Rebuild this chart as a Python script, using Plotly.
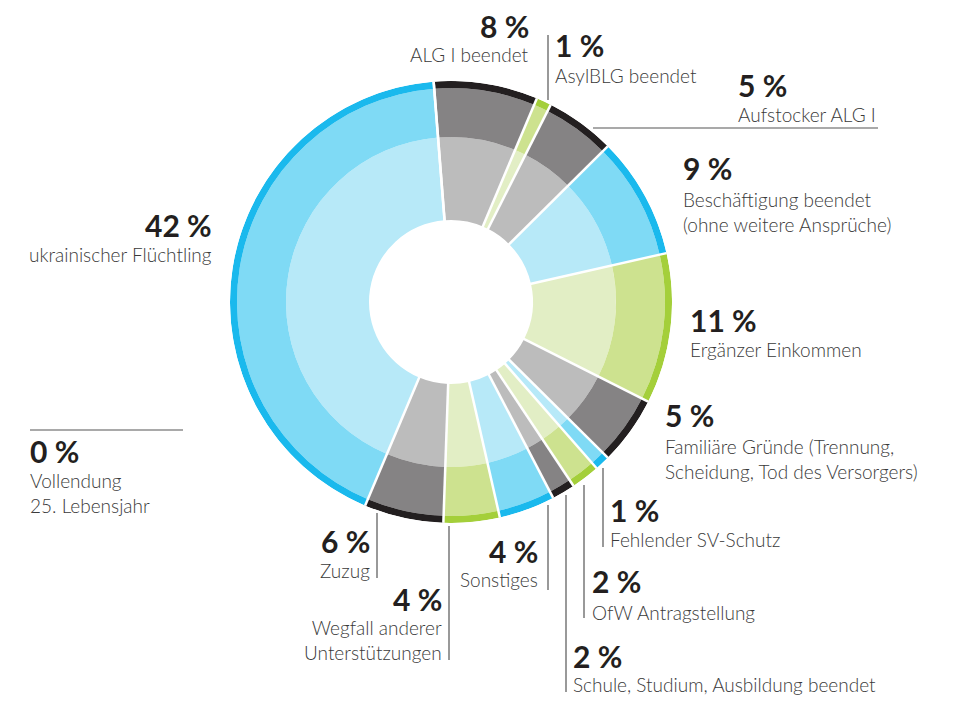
import plotly.graph_objects as go
import numpy as np

# ---------------- data ----------------
categories = [
    "ALG I beendet", "AsylBLG beendet", "Aufstocker ALG I",
    "Beschäftigung beendet (ohne weitere Ansprüche)", "Ergänzer Einkommen",
    "Familiäre Gründe (Trennung, Scheidung, Tod des Versorgers)",
    "Fehlender SV-Schutz", "OfW Antragstellung",
    "Schule, Studium, Ausbildung beendet", "Sonstiges",
    "Wegfall anderer Unterstützungen", "Zuzug", "ukrainischer Flüchtling",
    "Vollendung 25. Lebensjahr",
]
shares = [7.6, 1.1, 5.1, 8.9, 11.0, 5.0, 1.1, 2.1, 1.7, 4.1, 4.1, 5.8, 42.4, 0.0]
pct_labels = [8, 1, 5, 9, 11, 5, 1, 2, 2, 4, 4, 6, 42, 0]
label_text = [
    "ALG I beendet", "AsylBLG beendet", "Aufstocker ALG I",
    "Beschäftigung beendet<br>(ohne weitere Ansprüche)", "Ergänzer Einkommen",
    "Familiäre Gründe (Trennung,<br>Scheidung, Tod des Versorgers)",
    "Fehlender SV-Schutz", "OfW Antragstellung",
    "Schule, Studium, Ausbildung beendet", "Sonstiges",
    "Wegfall anderer<br>Unterstützungen", "Zuzug", "ukrainischer Flüchtling",
    "Vollendung<br>25. Lebensjahr",
]
families = ["gray", "green", "gray", "blue", "green", "gray", "blue", "green",
            "gray", "blue", "green", "gray", "blue", "gray"]

# ---------------- styles ----------------
palette = {
    "gray":  ("#231f20", "#858384", "#bcbcbc"),
    "blue":  ("#1ab9ed", "#7fdaf5", "#b7e9f8"),
    "green": ("#a4cf3a", "#cde28f", "#e2eec5"),
}
OFF = 8                      # page body margin
W, H = 957 - OFF, 704 - OFF  # figure size
CX, CY, R = 451, 302, 221    # page pixel coordinates
R_HOLE, R_INNER, R_MID = 82, 165, 214
START = -4.5  # degrees, clockwise from top

def px(x):
    return (x - OFF) / W

def py(y):
    return 1 - (y - OFF) / H

sh = np.array(shares, dtype=float)
deg = sh / sh.sum() * 360.0
cum = np.concatenate([[0], np.cumsum(deg)])
centers = START + cum[:-1] + deg / 2

fig = go.Figure()
rings = [(R_HOLE, R_INNER, 2), (R_INNER, R_MID, 1), (R_MID, R, 0)]
for base, top, idx in rings:
    fig.add_trace(go.Barpolar(
        theta=centers, width=deg, base=[base] * len(deg), r=[top - base] * len(deg),
        marker=dict(color=[palette[f][idx] for f in families], line=dict(width=0)),
        hoverinfo="skip", showlegend=False,
    ))

# white separators at slice boundaries
sep_r, sep_t = [], []
for a in cum[:-1]:
    sep_r += [R_HOLE - 1, R + 1, None]
    sep_t += [START + a, START + a, None]
fig.add_trace(go.Scatterpolar(r=sep_r, theta=sep_t, mode="lines",
                              line=dict(color="white", width=2.5),
                              hoverinfo="skip", showlegend=False))

# ---------------- labels ----------------
NUM_SIZE, LAB_SIZE = 30, 19
# (x, anchor, number baseline, label first baseline)
label_pos = [
    (531, "right", 38, 62),
    (553, "left", 57, 83),
    (736, "left", 97, 122),
    (681, "left", 180, 207),
    (688, "left", 332, 357),
    (663, "left", 427, 454),
    (608, "left", 522, 547),
    (590, "left", 593, 620),
    (571, "left", 668, 692),
    (540, "right", 563, 587),
    (444, "right", 611, 635),
    (372, "right", 553, 578),
    (214, "right", 237, 262),
    (28, "left", 463, 488),
]

annotations = []
for i, (x, anc, nb, lb) in enumerate(label_pos):
    annotations.append(dict(
        x=px(x), y=py(nb - 0.387 * NUM_SIZE), xref="paper", yref="paper",
        xanchor=anc, yanchor="middle", showarrow=False,
        text=f"{pct_labels[i]} %",
        font=dict(family="Lato, sans-serif", size=NUM_SIZE, color="#231f20", weight="bold"),
    ))
    n = label_text[i].count("<br>") + 1
    cy = lb + (n - 1) * 1.25 * LAB_SIZE / 2 - 0.387 * LAB_SIZE
    annotations.append(dict(
        x=px(x), y=py(cy), xref="paper", yref="paper",
        xanchor=anc, yanchor="middle", showarrow=False, align=anc,
        text=label_text[i],
        font=dict(family="Lato, sans-serif", size=LAB_SIZE, color="#3a3a3a", weight=300),
    ))

# leader lines (page pixel coordinates of layout)
leaders = [
    (548, 35, 548, 100),
    (593, 128, 878, 128),
    (603, 468, 603, 547),
    (584, 485, 584, 618),
    (566, 495, 566, 692),
    (548, 505, 548, 590),
    (449, 526, 449, 660),
    (377, 513, 377, 578),
    (30, 430, 183, 430),
]
shapes = [dict(type="line", xref="paper", yref="paper",
               x0=px(a), y0=py(b), x1=px(c), y1=py(d),
               line=dict(color="#555555", width=1.2)) for a, b, c, d in leaders]

fig.update_layout(
    width=W, height=H, margin=dict(l=0, r=0, t=0, b=0),
    paper_bgcolor="white", plot_bgcolor="white",
    showlegend=False,
    polar=dict(
        domain=dict(x=[px(CX - R), px(CX + R)], y=[py(CY + R), py(CY - R)]),
        bgcolor="rgba(0,0,0,0)",
        radialaxis=dict(visible=False, range=[0, R]),
        angularaxis=dict(visible=False, rotation=90, direction="clockwise"),
        bargap=0,
    ),
    annotations=annotations,
    shapes=shapes,
)

fig.write_html("out.html")
